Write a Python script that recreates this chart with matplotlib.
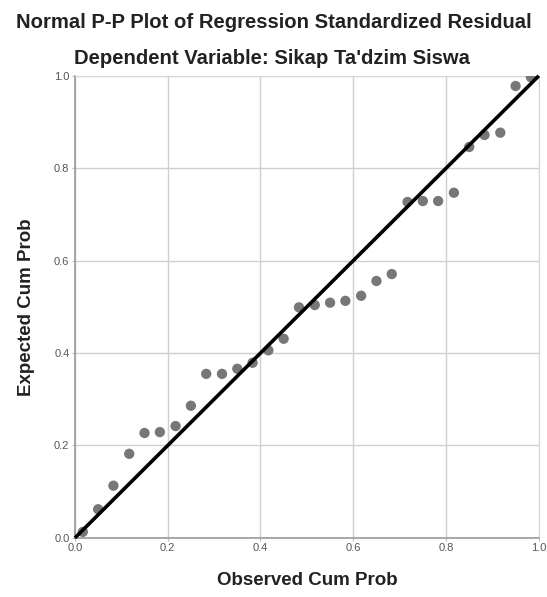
import matplotlib.pyplot as plt

# observed vs expected cumulative probabilities
observed = [0.017, 0.050, 0.083, 0.117, 0.150, 0.183, 0.217, 0.250, 0.283, 0.317,
            0.350, 0.383, 0.417, 0.450, 0.483, 0.517, 0.550, 0.583, 0.617, 0.650,
            0.683, 0.717, 0.750, 0.783, 0.817, 0.850, 0.883, 0.917, 0.950, 0.983]
expected = [0.013, 0.062, 0.113, 0.182, 0.227, 0.229, 0.242, 0.286, 0.355, 0.355,
            0.366, 0.379, 0.406, 0.431, 0.499, 0.504, 0.509, 0.513, 0.524, 0.556,
            0.571, 0.727, 0.729, 0.729, 0.747, 0.846, 0.872, 0.877, 0.978, 0.997]
ticks = [0.0, 0.2, 0.4, 0.6, 0.8, 1.0]
tick_labels = ["0.0", "0.2", "0.4", "0.6", "0.8", "1.0"]

plt.rcParams["font.family"] = ["Liberation Sans", "DejaVu Sans"]


def main():
    fig = plt.figure(figsize=(5.47, 5.97), dpi=100)
    ax = fig.add_axes([0.137, 0.099, 0.848, 0.774])
    ax.set_xlim(0.0, 1.0)
    ax.set_ylim(0.0, 1.0)

    # grid and frame
    ax.set_xticks(ticks)
    ax.set_yticks(ticks)
    ax.set_xticklabels(tick_labels)
    ax.set_yticklabels(tick_labels)
    ax.grid(True, color="#cfcfcf", linewidth=1.0)
    ax.set_axisbelow(True)
    for side in ["top", "right"]:
        ax.spines[side].set_color("#d5d5d5")
    for side in ["left", "bottom"]:
        ax.spines[side].set_color("#9a9a9a")
        ax.spines[side].set_linewidth(1.2)
    ax.tick_params(length=2, color="#bbbbbb", labelsize=8, labelcolor="#555555", pad=2)

    # points and reference line
    ax.scatter(observed, expected, s=55, color="#777777", edgecolors="none", zorder=3)
    ax.plot([0.0, 1.0], [0.0, 1.0], color="black", linewidth=2.6, zorder=4,
            solid_capstyle="butt", clip_on=False)

    fig.text(0.5, 0.962, "Normal P-P Plot of Regression Standardized Residual",
             ha="center", va="center", fontsize=14.6, fontweight="bold", color="#222222")
    fig.text(0.497, 0.902, "Dependent Variable: Sikap Ta'dzim Siswa",
             ha="center", va="center", fontsize=14.6, fontweight="bold", color="#222222")
    ax.set_xlabel("Observed Cum Prob", fontsize=13.5, fontweight="bold",
                  color="#222222", labelpad=13)
    ax.set_ylabel("Expected Cum Prob", fontsize=13.5, fontweight="bold",
                  color="#222222", labelpad=14)

    fig.savefig("out.png", dpi=100, facecolor="white")


if __name__ == "__main__":
    main()
